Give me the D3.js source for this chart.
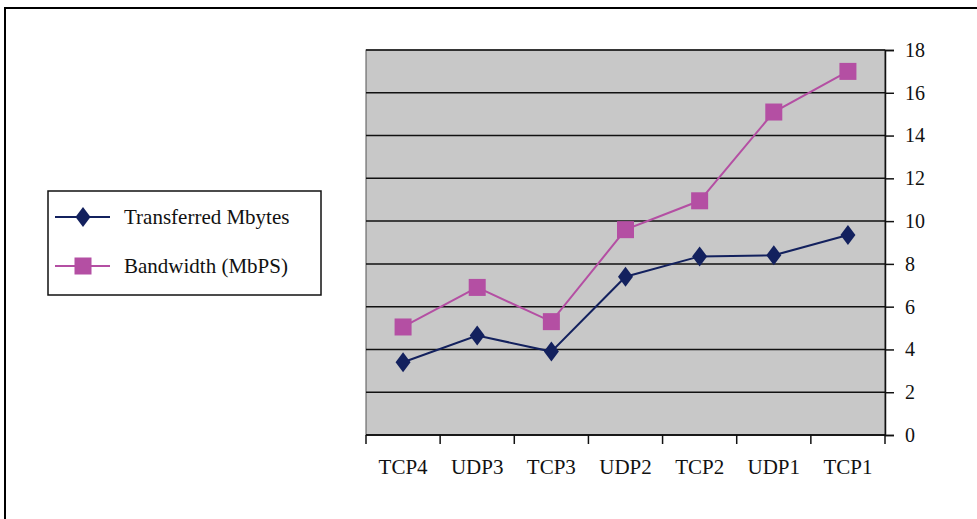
<!DOCTYPE html>
<html>
<head>
<meta charset="utf-8">
<script src="https://cdn.jsdelivr.net/npm/d3@7"></script>
<style>
body { margin: 0; background: #fff; }
svg { display: block; font-family: "Liberation Serif", "Times New Roman", serif; }
</style>
</head>
<body>
<div id="chart"></div>
<script>
var categories = ["TCP4", "UDP3", "TCP3", "UDP2", "TCP2", "UDP1", "TCP1"];
var transferred = [3.4, 4.65, 3.9, 7.4, 8.35, 8.4, 9.35];
var bandwidth = [5.05, 6.9, 5.3, 9.6, 10.95, 15.1, 17];
var yTicks = [0, 2, 4, 6, 8, 10, 12, 14, 16, 18];
var seriesNames = ["Transferred Mbytes", "Bandwidth (MbPS)"];

var W = 977, H = 519;
var plot = {left: 366, right: 885, top: 50, bottom: 435};

var navy = "#13215e", pink = "#b44fa3";

var svg = d3.select("#chart").append("svg")
  .attr("width", W)
  .attr("height", H);

// outer frame
svg.append("rect")
  .attr("x", 5).attr("y", 8)
  .attr("width", W + 10).attr("height", H + 10)
  .attr("fill", "none")
  .attr("stroke", "#000")
  .attr("stroke-width", 2);

var x = d3.scaleBand().domain(categories).range([plot.left, plot.right]).padding(0);
var y = d3.scaleLinear().domain([0, 18]).range([plot.bottom, plot.top]);

// plot background
svg.append("rect")
  .attr("x", plot.left).attr("y", plot.top)
  .attr("width", plot.right - plot.left)
  .attr("height", plot.bottom - plot.top)
  .attr("fill", "#c8c8c8")
  .attr("stroke", "#555")
  .attr("stroke-width", 1);

// gridlines
svg.append("g")
  .selectAll("line")
  .data(yTicks)
  .enter().append("line")
  .attr("x1", plot.left)
  .attr("x2", plot.right)
  .attr("y1", function(d) { return y(d); })
  .attr("y2", function(d) { return y(d); })
  .attr("stroke", "#111")
  .attr("stroke-width", 1.5);

// right y axis
var yAxis = d3.axisRight(y).tickValues(yTicks).tickSize(9).tickPadding(11);
var gy = svg.append("g")
  .attr("transform", "translate(" + plot.right + ",0)")
  .call(yAxis);
gy.select(".domain").attr("stroke", "#111").attr("stroke-width", 1.5);
gy.selectAll(".tick line").attr("stroke", "#111").attr("stroke-width", 1.5);
gy.selectAll("text")
  .attr("font-family", "Liberation Serif, serif")
  .attr("font-size", 20)
  .attr("fill", "#111");

// bottom x axis with boundary ticks
var boundaries = categories.map(function(c) { return x(c); }).concat([plot.right]);
svg.append("line")
  .attr("x1", plot.left).attr("x2", plot.right)
  .attr("y1", plot.bottom).attr("y2", plot.bottom)
  .attr("stroke", "#111").attr("stroke-width", 1.5);
svg.append("g")
  .selectAll("line")
  .data(boundaries)
  .enter().append("line")
  .attr("x1", function(d) { return d; })
  .attr("x2", function(d) { return d; })
  .attr("y1", plot.bottom)
  .attr("y2", plot.bottom + 9)
  .attr("stroke", "#111")
  .attr("stroke-width", 1.5);

svg.append("g")
  .selectAll("text")
  .data(categories)
  .enter().append("text")
  .attr("x", function(d) { return x(d) + x.bandwidth() / 2; })
  .attr("y", 474)
  .attr("text-anchor", "middle")
  .attr("font-size", 21)
  .attr("fill", "#111")
  .text(function(d) { return d; });

var cx = function(d, i) { return x(categories[i]) + x.bandwidth() / 2; };

var line = d3.line()
  .x(function(d, i) { return cx(d, i); })
  .y(function(d) { return y(d); });

svg.append("path")
  .datum(bandwidth)
  .attr("d", line)
  .attr("fill", "none")
  .attr("stroke", pink)
  .attr("stroke-width", 2);

svg.append("path")
  .datum(transferred)
  .attr("d", line)
  .attr("fill", "none")
  .attr("stroke", navy)
  .attr("stroke-width", 2);

var square = 17;
svg.append("g")
  .selectAll("rect")
  .data(bandwidth)
  .enter().append("rect")
  .attr("x", function(d, i) { return cx(d, i) - square / 2; })
  .attr("y", function(d) { return y(d) - square / 2; })
  .attr("width", square)
  .attr("height", square)
  .attr("fill", pink);

function diamond(px, py) {
  var w = 7.5, h = 10;
  return "M" + px + "," + (py - h) + "L" + (px + w) + "," + py + "L" + px + "," + (py + h) + "L" + (px - w) + "," + py + "Z";
}

svg.append("g")
  .selectAll("path")
  .data(transferred)
  .enter().append("path")
  .attr("d", function(d, i) { return diamond(cx(d, i), y(d)); })
  .attr("fill", navy);

// legend
var legend = svg.append("g");
legend.append("rect")
  .attr("x", 48).attr("y", 191)
  .attr("width", 273).attr("height", 104)
  .attr("fill", "#fff")
  .attr("stroke", "#111")
  .attr("stroke-width", 1.5);

var rowY = [217, 266];
seriesNames.forEach(function(name, i) {
  var col = i === 0 ? navy : pink;
  legend.append("line")
    .attr("x1", 55).attr("x2", 110)
    .attr("y1", rowY[i]).attr("y2", rowY[i])
    .attr("stroke", col).attr("stroke-width", 2);
  if (i === 0) {
    legend.append("path").attr("d", diamond(83, rowY[i])).attr("fill", navy);
  } else {
    legend.append("rect")
      .attr("x", 83 - square / 2).attr("y", rowY[i] - square / 2)
      .attr("width", square).attr("height", square)
      .attr("fill", pink);
  }
  legend.append("text")
    .attr("x", 124)
    .attr("y", rowY[i] + 7)
    .attr("font-size", 21)
    .attr("fill", "#111")
    .text(name);
});
</script>
</body>
</html>
